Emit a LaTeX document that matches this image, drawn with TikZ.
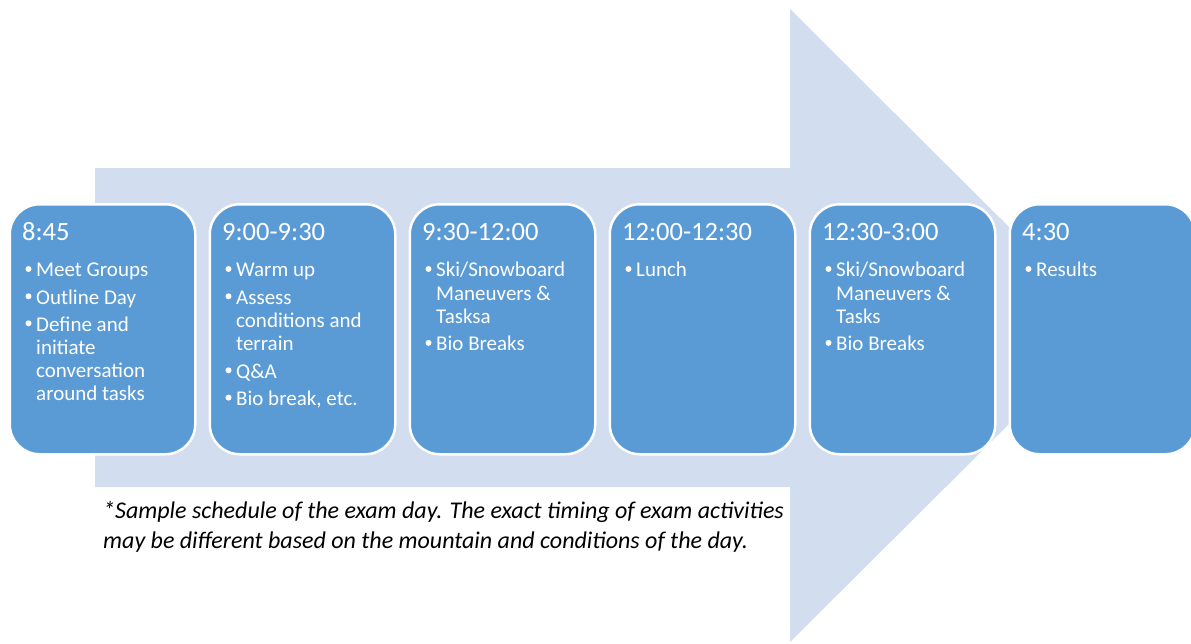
\documentclass[tikz,border=0pt]{standalone}
\usepackage{fontspec}
\setmainfont{Carlito}
\definecolor{boxblue}{HTML}{5B9BD5}
\definecolor{arrowblue}{HTML}{D2DEEF}
\tikzset{
  schedbox/.style={draw=white, line width=2.5pt, fill=boxblue, rounded corners=30pt,
    minimum width=185.5pt, minimum height=250pt, inner sep=0pt, anchor=north west},
  ttxt/.style={anchor=base west, inner sep=0pt, text=white, font=\fontsize{26.5}{30}\selectfont},
  btxt/.style={anchor=base west, inner sep=0pt, text=white, font=\fontsize{21}{23}\selectfont},
  ftxt/.style={anchor=base west, inner sep=0pt, text=black, font=\fontsize{24}{30}\selectfont\itshape},
}
\newcommand\bitem[4]{\fill[white] (#2-7.5,#3-7.7) circle (3pt);\node[btxt] (#1) at (#2,#3) {#4};}
\newcommand\cont[4]{\node[btxt] (#1) at (#2,#3) {#4};}
\begin{document}
\begin{tikzpicture}[x=1pt,y=-1pt]
\useasboundingbox (0,0) rectangle (1191,643);
% big arrow
\fill[arrowblue] (95,168) -- (790,168) -- (790,9) -- (1108,325.5) -- (790,642) -- (790,487) -- (95,487) -- cycle;
% boxes
\foreach \i/\l in {1/8.5,2/208.5,3/408.5,4/608.5,5/808.5,6/1008.5}{
  \node[schedbox] (box\i) at (\l,203) {};
}
% box 1
\node[ttxt] (t1) at (22,240.7) {8:45};
\bitem{a1}{36}{276.7}{Meet Groups}
\bitem{a2}{36}{304}{Outline Day}
\bitem{a3}{36}{331}{Define and}
\cont{a4}{36}{354.3}{initiate}
\cont{a5}{36}{377.6}{conversation}
\cont{a6}{36}{400.9}{around tasks}
% box 2
\node[ttxt] (t2) at (222,240.7) {9:00-9:30};
\bitem{b1}{236}{276.7}{Warm up}
\bitem{b2}{236}{304}{Assess}
\cont{b3}{236}{327.3}{conditions and}
\cont{b4}{236}{350.6}{terrain}
\bitem{b5}{236}{378}{Q\&A}
\bitem{b6}{236}{405.3}{Bio break, etc.}
% box 3
\node[ttxt] (t3) at (422,240.7) {9:30-12:00};
\bitem{c1}{436}{276.7}{Ski/Snowboard}
\cont{c2}{436}{300}{Maneuvers \&}
\cont{c3}{436}{323.3}{Tasksa}
\bitem{c4}{436}{350.6}{Bio Breaks}
% box 4
\node[ttxt] (t4) at (622,240.7) {12:00-12:30};
\bitem{d1}{636}{276.7}{Lunch}
% box 5
\node[ttxt] (t5) at (822,240.7) {12:30-3:00};
\bitem{e1}{836}{276.7}{Ski/Snowboard}
\cont{e2}{836}{300}{Maneuvers \&}
\cont{e3}{836}{323.3}{Tasks}
\bitem{e4}{836}{350.6}{Bio Breaks}
% box 6
\node[ttxt] (t6) at (1022,240.7) {4:30};
\bitem{f1}{1036}{276.7}{Results}
% footnote
\node[ftxt] (fn1) at (103,518.3) {*Sample schedule of the exam day. The exact timing of exam activities};
\node[ftxt] (fn2) at (103,548.3) {may be different based on the mountain and conditions of the day.};
\end{tikzpicture}
\end{document}
